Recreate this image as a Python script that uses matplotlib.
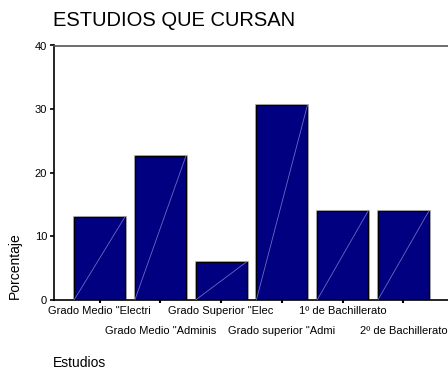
import matplotlib
matplotlib.use("Agg")
import matplotlib.pyplot as plt
import matplotlib.transforms as mtransforms
import numpy as np

plt.rcParams['font.family'] = ['Liberation Sans', 'DejaVu Sans']

categories = ['Grado Medio "Electri', 'Grado Medio "Adminis', 'Grado Superior "Elec',
              'Grado superior "Admi', '1º de Bachillerato', '2º de Bachillerato']
percentages = [13.1, 22.6, 6.0, 30.6, 14.0, 14.0]
y_ticks = [0, 10, 20, 30, 40]

W, H = 448, 371
fig = plt.figure(figsize=(W / 100, H / 100), dpi=100)
ax = fig.add_axes([54 / W, (H - 300) / H, 395 / W, 254.5 / H])

x = np.arange(len(categories))
width = 0.84
navy = '#000080'

# soft grey halo behind the bar outlines
ax.bar(x, percentages, width=width, color='none', edgecolor='#b8b8b8',
       linewidth=2.2, zorder=1)
bars = ax.bar(x, percentages, width=width, color=navy, edgecolor='black',
              linewidth=0.9, zorder=2)

# thin diagonal across each bar
for b in bars:
    x0 = b.get_x()
    ax.plot([x0, x0 + b.get_width()], [0, b.get_height()], color='#6a6ac4',
            linewidth=0.6, zorder=3)

ax.set_xlim(-0.75, 5.75)
ax.set_ylim(0, 40)
ax.set_yticks(y_ticks)
ax.set_yticklabels([str(t) for t in y_ticks], fontsize=8)
ax.set_xticks(x)
ax.set_xticklabels([])
ax.tick_params(axis='y', direction='out', length=3, width=1.2, pad=2)
ax.tick_params(axis='x', direction='out', length=2, width=1.5)

for side in ['left', 'bottom']:
    ax.spines[side].set_color('black')
    ax.spines[side].set_linewidth(1.2)
ax.spines['top'].set_color('#555555')
ax.spines['top'].set_linewidth(1.2)
ax.spines['right'].set_visible(False)

# staggered category labels: x in data units, y in figure units
label_tf = mtransforms.blended_transform_factory(ax.transData, fig.transFigure)
for i, lab in enumerate(categories):
    ypix = 311 if i % 2 == 0 else 331
    ax.text(i, (H - ypix) / H, lab, fontsize=8, ha='center', va='center',
            transform=label_tf, clip_on=False)

fig.text(53 / W, (H - 21) / H, 'ESTUDIOS QUE CURSAN', fontsize=14.5,
         ha='left', va='center')
fig.text(15 / W, (H - 266) / H, 'Porcentaje', fontsize=10, rotation=90,
         ha='center', va='center')
fig.text(53 / W, (H - 363) / H, 'Estudios', fontsize=10, ha='left', va='center')

fig.savefig('out.png', dpi=100)
